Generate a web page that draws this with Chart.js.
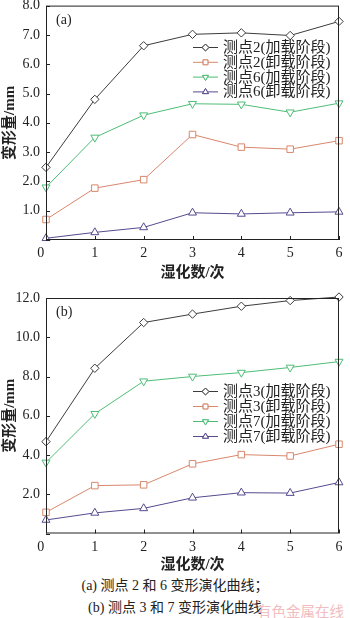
<!DOCTYPE html>
<html>
<head>
<meta charset="utf-8">
<script src="https://cdn.jsdelivr.net/npm/chart.js@4.4.1/dist/chart.umd.min.js"></script>
<style>
  html, body { margin: 0; padding: 0; background: #fff; }
  body { width: 350px; height: 618px; position: relative; overflow: hidden; }
  .box { position: absolute; left: 0; width: 350px; }
  #boxA { top: 0; height: 282px; }
  #boxB { top: 284px; height: 290px; }
  .cap {
    position: absolute; left: 0; width: 350px; text-align: center; white-space: pre;
    font: 14px "Liberation Serif", "Noto Sans CJK SC", serif; color: #222;
  }
  #wm {
    position: absolute; left: 257px; top: 600px;
    font: 14.5px "Noto Sans CJK SC", sans-serif; color: #f2bcc0;
  }
</style>
</head>
<body>
<div class="box" id="boxA"><canvas id="chartA"></canvas></div>
<div class="box" id="boxB"><canvas id="chartB"></canvas></div>
<div class="cap" style="top:574px">(a) 测点 2 和 6 变形演化曲线；</div>
<div class="cap" style="top:596px">(b) 测点 3 和 7 变形演化曲线</div>
<div id="wm">有色金属在线</div>

<script>
// ── Data ──────────────────────────────────────────────────
const cycles = [0, 1, 2, 3, 4, 5, 6];

// (a) 测点2 / 测点6
const labelsA = ["测点2(加载阶段)", "测点2(卸载阶段)", "测点6(加载阶段)", "测点6(卸载阶段)"];
const p2Load   = [2.48, 4.8, 6.63, 7.02, 7.07, 6.98, 7.46];
const p2Unload = [0.7, 1.77, 2.06, 3.6, 3.17, 3.1, 3.39];
const p6Load   = [1.8, 3.5, 4.26, 4.65, 4.63, 4.36, 4.67];
const p6Unload = [0.06, 0.26, 0.43, 0.93, 0.89, 0.93, 0.96];

// (b) 测点3 / 测点7
const labelsB = ["测点3(加载阶段)", "测点3(卸载阶段)", "测点7(加载阶段)", "测点7(卸载阶段)"];
const p3Load   = [4.68, 8.42, 10.75, 11.18, 11.58, 11.87, 12.05];
const p3Unload = [1.08, 2.44, 2.48, 3.55, 4.02, 3.95, 4.55];
const p7Load   = [3.62, 6.1, 7.76, 8.0, 8.2, 8.46, 8.76];
const p7Unload = [0.69, 1.05, 1.28, 1.82, 2.08, 2.06, 2.6];

// ── Styles ────────────────────────────────────────────────
const SERIF = "'Liberation Serif', 'Noto Sans CJK SC', serif";
const styles = [
  { color: "#3c3c3c", pointStyle: "rectRot", radius: 4.2, rotation: 0 },
  { color: "#d8876c", pointStyle: "rect", radius: 4.6, rotation: 0 },
  { color: "#4dbd76", pointStyle: "triangle", radius: 4.6, rotation: 180 },
  { color: "#564a8f", pointStyle: "triangle", radius: 4.6, rotation: 0 },
];

const makeSets = (labels, series) =>
  series.map((data, i) => ({
    label: labels[i],
    data,
    borderColor: styles[i].color,
    backgroundColor: "#fff",
    borderWidth: 1,
    pointStyle: styles[i].pointStyle,
    pointRotation: styles[i].rotation,
    pointRadius: styles[i].radius,
    pointBorderWidth: 1,
    pointBackgroundColor: "#fff",
    pointBorderColor: styles[i].color,
    tension: 0,
    clip: false,
  }));

// ── Frame, inward ticks, panel tag and legend ─────────────
const framePlugin = {
  id: "frame",
  afterDraw(chart, args, opts) {
    const { ctx, chartArea: a, scales } = chart;
    ctx.save();
    ctx.strokeStyle = "#222";
    ctx.lineWidth = 1;
    ctx.strokeRect(a.left + 0.5, a.top + 0.5, a.right - a.left - 1, a.bottom - a.top - 1);

    // inward ticks
    ctx.beginPath();
    scales.x.ticks.forEach((t) => {
      const x = Math.round(scales.x.getPixelForValue(t.value)) + 0.5;
      ctx.moveTo(x, a.bottom);
      ctx.lineTo(x, a.bottom - 4);
    });
    scales.y.ticks.forEach((t) => {
      const y = Math.round(scales.y.getPixelForValue(t.value)) + 0.5;
      ctx.moveTo(a.left, y);
      ctx.lineTo(a.left + 4, y);
    });
    ctx.stroke();

    // panel tag
    ctx.fillStyle = "#222";
    ctx.font = "14px " + SERIF;
    ctx.textBaseline = "middle";
    ctx.textAlign = "left";
    ctx.fillText(opts.tag, a.left + 10, a.top + opts.tagDy);

    // legend
    ctx.font = "15px " + SERIF;
    chart.data.datasets.forEach((ds, i) => {
      const y = opts.legendY + i * opts.legendGap;
      const x0 = opts.legendX;
      ctx.strokeStyle = ds.borderColor;
      ctx.beginPath();
      ctx.moveTo(x0, y + 0.5);
      ctx.lineTo(x0 + 25, y + 0.5);
      ctx.stroke();
      ctx.fillStyle = "#fff";
      Chart.helpers.drawPoint(ctx, {
        pointStyle: ds.pointStyle,
        rotation: ds.pointRotation,
        radius: 3.4,
        borderWidth: 1,
      }, x0 + 12.5, y + 0.5);
      ctx.fill();
      ctx.stroke();
      ctx.fillStyle = "#222";
      ctx.fillText(ds.label, x0 + 30, y + 1);
    });
    ctx.restore();
  },
};

function makeChart(id, labels, series, yMax, yStep, padTop, xHeight, frameOpts) {
  return new Chart(document.getElementById(id), {
    type: "line",
    data: { labels: cycles, datasets: makeSets(labels, series) },
    plugins: [framePlugin],
    options: {
      responsive: true,
      maintainAspectRatio: false,
      animation: false,
      layout: { padding: { top: padTop, right: 11, left: 0, bottom: 0 } },
      plugins: {
        legend: { display: false },
        tooltip: { enabled: false },
        frame: frameOpts,
      },
      scales: {
        x: {
          type: "linear",
          min: 0,
          max: 6,
          grid: { display: false, drawTicks: false },
          border: { display: false },
          ticks: {
            stepSize: 1,
            color: "#222",
            padding: 5,
            font: { family: SERIF, size: 14 },
            callback: (v) => (v === 0 ? "0   " : String(v)),
          },
          title: {
            display: true,
            text: "湿化数/次",
            color: "#222",
            padding: 0,
            font: { family: SERIF, size: 15, weight: "bold" },
          },
          afterFit: (s) => {
            s.height = xHeight;
            s.paddingLeft = 0;
            s.paddingRight = 0;
          },
        },
        y: {
          min: 0,
          max: yMax,
          grid: { display: false, drawTicks: false },
          border: { display: false },
          ticks: {
            stepSize: yStep,
            color: "#222",
            padding: 6,
            font: { family: SERIF, size: 14 },
            callback: (v) => (v === 0 ? "" : v.toFixed(1)),
          },
          title: {
            display: true,
            text: "变形量/mm",
            color: "#222",
            padding: { top: 1 },
            font: { family: SERIF, size: 15, weight: "bold" },
          },
          afterFit: (s) => {
            s.width = 46;
            s.paddingTop = 0;
            s.paddingBottom = 0;
          },
        },
      },
    },
  });
}

makeChart("chartA", labelsA, [p2Load, p2Unload, p6Load, p6Unload], 8, 1, 5, 42,
  { tag: "(a)", tagDy: 15, legendX: 193, legendY: 47, legendGap: 14.8 });

makeChart("chartB", labelsB, [p3Load, p3Unload, p7Load, p7Unload], 12, 2, 14, 40.5,
  { tag: "(b)", tagDy: 14, legendX: 193, legendY: 107, legendGap: 15 });
</script>
</body>
</html>
